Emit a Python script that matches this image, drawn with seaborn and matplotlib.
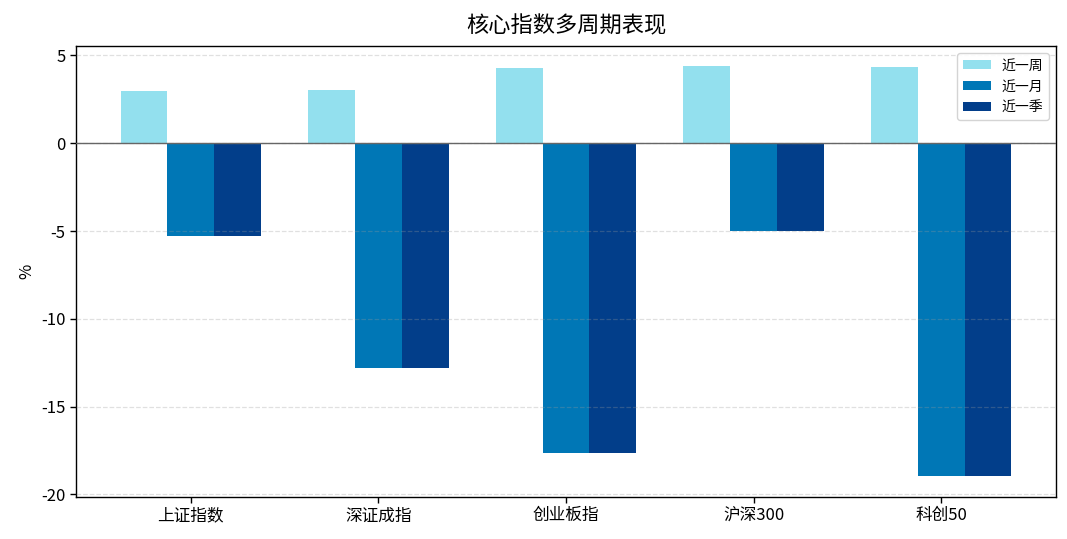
import pandas as pd
import matplotlib
matplotlib.use("Agg")
import matplotlib.pyplot as plt
import seaborn as sns

# 数据（%）
indices = ["上证指数", "深证成指", "创业板指", "沪深300", "科创50"]
periods = ["近一周", "近一月", "近一季"]
week = [2.97, 3.03, 4.28, 4.39, 4.34]
month = [-5.31, -12.82, -17.65, -5.02, -18.95]
quarter = [-5.31, -12.82, -17.65, -5.02, -18.95]
colors = ["#93E0EE", "#0077B6", "#023E8A"]

df = pd.DataFrame({
    "index": indices * 3,
    "period": [p for p in periods for _ in indices],
    "value": week + month + quarter,
})

sns.set_style("white")
plt.rcParams["font.family"] = ["Noto Sans CJK SC", "DejaVu Sans"]
plt.rcParams["axes.unicode_minus"] = False
plt.rcParams["text.color"] = "black"
plt.rcParams["axes.labelcolor"] = "black"
plt.rcParams["xtick.color"] = "black"
plt.rcParams["ytick.color"] = "black"

fig = plt.figure(figsize=(10.67, 5.39), dpi=100)
ax = fig.add_axes([0.0712, 0.0780, 0.9185, 0.8367])

sns.barplot(data=df, x="index", y="value", hue="period", hue_order=periods,
            palette=colors, width=0.75, saturation=1, ax=ax, errorbar=None,
            linewidth=0, edgecolor="none")

ax.axhline(0, color="#666666", linewidth=1, zorder=3)
ax.set_axisbelow(False)
ax.yaxis.grid(True, linestyle="--", color="#999999", linewidth=0.9, alpha=0.3)
ax.xaxis.grid(False)
ax.set_xlim(-0.6125, 4.6125)
ax.set_ylim(-20.15, 5.54)
ax.set_yticks([5, 0, -5, -10, -15, -20])

for s in ax.spines.values():
    s.set_color("black")
    s.set_linewidth(1)

ax.tick_params(axis="both", which="both", length=4, width=1, color="black",
               labelcolor="black", labelsize=12, bottom=True, left=True)
ax.set_xlabel("")
ax.set_ylabel("%", fontsize=12, color="black")
ax.set_title("核心指数多周期表现", fontsize=16, pad=10, color="black")

leg = ax.legend(title=None, loc="upper right", fontsize=10, frameon=True,
                fancybox=True)
frame = leg.get_frame()
frame.set_edgecolor("#d0d0d0")
frame.set_linewidth(1)
frame.set_alpha(0.9)

fig.savefig("out.png", dpi=100)
